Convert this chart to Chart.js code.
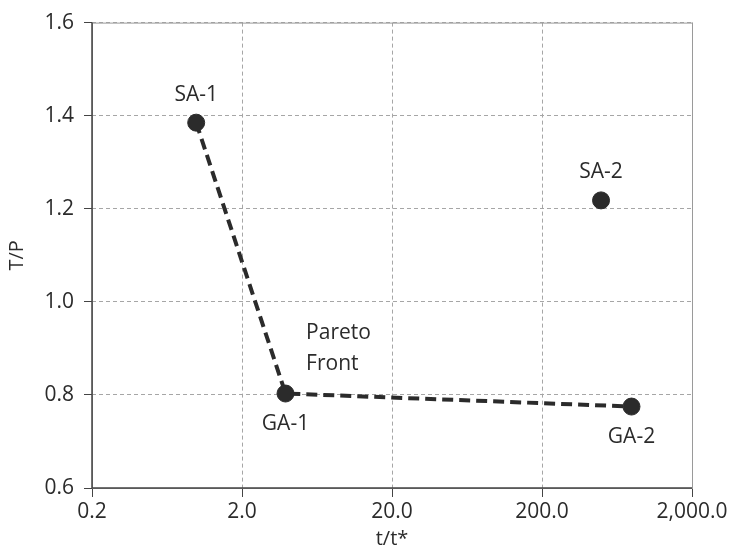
<!DOCTYPE html>
<html>
<head>
<meta charset="utf-8">
<script src="https://cdn.jsdelivr.net/npm/chart.js@4"></script>
<style>
  html, body { margin: 0; padding: 0; background: #fff; }
  #wrap { width: 731px; height: 554px; }
</style>
</head>
<body>
<div id="wrap"><canvas id="paretoChart" width="731" height="554"></canvas></div>
<script>
// values
const pointNames = ['SA-1', 'GA-1', 'SA-2', 'GA-2'];
const timeRatio = [0.99, 3.9, 495, 790];      // t/t*
const costRatio = [1.385, 0.803, 1.218, 0.775]; // T/P
const paretoFront = ['SA-1', 'GA-1', 'GA-2'];
const xTicks = [0.2, 2, 20, 200, 2000];
const yTicks = [0.6, 0.8, 1.0, 1.2, 1.4, 1.6];
const frontLabel = ['Pareto', 'Front'];
const frontLabelAt = { x: 5.35, y: 0.921 };

const FONT = '"Open Sans", "DejaVu Sans", sans-serif';
const INK = '#2b2b2b';
const GRID = '#a6a6a6';

const allPoints = pointNames.map((n, i) => ({ x: timeRatio[i], y: costRatio[i], name: n }));
const frontPoints = paretoFront.map(n => allPoints[pointNames.indexOf(n)]);

// point names and the "Pareto Front" note
const labelPlugin = {
    id: 'pointLabels',
    afterDatasetsDraw(chart) {
        const { ctx, scales: { x, y } } = chart;
        ctx.save();
        ctx.font = '21px ' + FONT;
        ctx.fillStyle = INK;
        ctx.textAlign = 'center';
        ctx.textBaseline = 'alphabetic';
        allPoints.forEach(p => {
            const px = x.getPixelForValue(p.x);
            const py = y.getPixelForValue(p.y);
            if (p.name.startsWith('SA')) {
                ctx.fillText(p.name, px, py - 22);
            } else {
                ctx.fillText(p.name, px, py + 36);
            }
        });
        ctx.textAlign = 'left';
        const fx = x.getPixelForValue(frontLabelAt.x);
        const fy = y.getPixelForValue(frontLabelAt.y);
        frontLabel.forEach((t, i) => ctx.fillText(t, fx, fy + i * 31));
        ctx.restore();
    }
};

// thin grey frame on top and right, dark axes left and bottom
const framePlugin = {
    id: 'frame',
    beforeDatasetsDraw(chart) {
        const { ctx, chartArea: a } = chart;
        ctx.save();
        ctx.strokeStyle = '#9a9a9a';
        ctx.lineWidth = 1;
        ctx.strokeRect(a.left + 0.5, a.top + 0.5, a.right - a.left, a.bottom - a.top);
        ctx.strokeStyle = '#444';
        ctx.lineWidth = 1.5;
        ctx.beginPath();
        ctx.moveTo(a.left, a.top);
        ctx.lineTo(a.left, a.bottom);
        ctx.lineTo(a.right, a.bottom);
        ctx.stroke();
        ctx.restore();
    }
};

new Chart(document.getElementById('paretoChart'), {
    type: 'scatter',
    data: {
        datasets: [{
            label: 'Pareto Front',
            data: frontPoints,
            showLine: true,
            borderColor: INK,
            borderWidth: 4,
            borderDash: [11, 6],
            pointRadius: 0,
            order: 2
        }, {
            label: 'Solutions',
            data: allPoints,
            pointRadius: 8.5,
            pointBackgroundColor: INK,
            pointBorderColor: INK,
            order: 1
        }]
    },
    options: {
        responsive: false,
        animation: false,
        events: [],
        layout: { padding: { top: 18, right: 39, bottom: 0, left: 0 } },
        plugins: { legend: { display: false }, tooltip: { enabled: false } },
        scales: {
            x: {
                type: 'logarithmic',
                min: 0.2,
                max: 2000,
                afterBuildTicks: s => { s.ticks = xTicks.map(v => ({ value: v })); },
                afterFit: s => { s.height = 66; },
                grid: { color: GRID, lineWidth: 1, tickColor: '#444', tickLength: 9 },
                border: { display: false, dash: [4, 3] },
                ticks: {
                    autoSkip: false,
                    maxRotation: 0,
                    padding: 2,
                    color: INK,
                    font: { family: FONT, size: 21 },
                    callback: v => Number(v).toLocaleString('en-US', { minimumFractionDigits: 1, maximumFractionDigits: 1 })
                },
                title: {
                    display: true,
                    text: 't/t*',
                    color: INK,
                    font: { family: FONT, size: 20, lineHeight: 1.1 },
                    padding: { top: 0, bottom: 4 }
                }
            },
            y: {
                min: 0.6,
                max: 1.6,
                afterBuildTicks: s => { s.ticks = yTicks.map(v => ({ value: v })); },
                afterFit: s => { s.width = 92; },
                grid: { color: GRID, lineWidth: 1, tickColor: '#444', tickLength: 8 },
                border: { display: false, dash: [4, 3] },
                ticks: {
                    padding: 10,
                    color: INK,
                    font: { family: FONT, size: 21 },
                    callback: v => Number(v).toFixed(1)
                },
                title: {
                    display: true,
                    text: 'T/P',
                    color: INK,
                    font: { family: FONT, size: 20, lineHeight: 1.1 },
                    padding: { top: 6, bottom: 0 }
                }
            }
        }
    },
    plugins: [framePlugin, labelPlugin]
});
</script>
</body>
</html>
